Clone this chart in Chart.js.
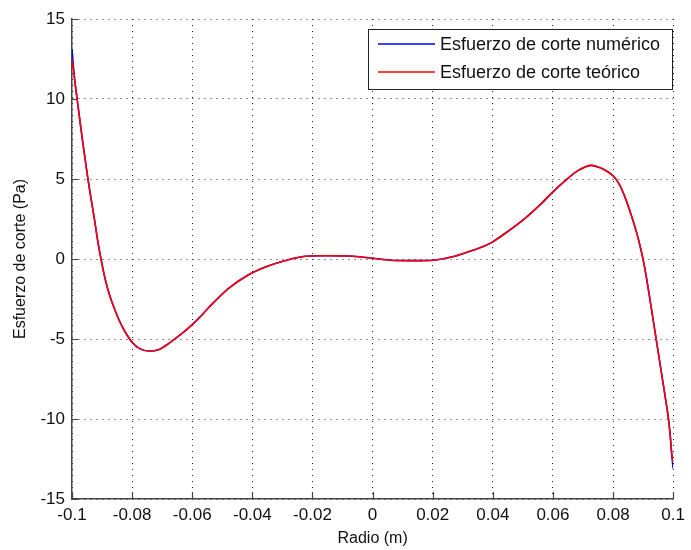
<!DOCTYPE html>
<html>
<head>
<meta charset="utf-8">
<script src="https://cdn.jsdelivr.net/npm/chart.js@4"></script>
<style>
  html, body { margin: 0; padding: 0; background: #fff; }
  #wrap { width: 691px; height: 550px; }
</style>
</head>
<body>
<div id="wrap"><canvas id="myChart"></canvas></div>
<script>
// valores
const radio = [-0.1, -0.0991, -0.0983, -0.0974, -0.0965, -0.0956, -0.0947, -0.0936, -0.0925, -0.0915,
  -0.0904, -0.0895, -0.0885, -0.0875, -0.0865, -0.0845, -0.0825, -0.08, -0.0775, -0.0744,
  -0.071, -0.068, -0.0634, -0.06, -0.057, -0.0546, -0.048, -0.0414, -0.035, -0.0283,
  -0.0223, -0.015, -0.0065, 0, 0.006, 0.015, 0.021, 0.0276, 0.0342, 0.037,
  0.0397, 0.0452, 0.0507, 0.0562, 0.06, 0.0644, 0.0683, 0.0726, 0.0757, 0.0778,
  0.08, 0.082, 0.084, 0.0862, 0.0879, 0.089, 0.0899, 0.091, 0.092, 0.093,
  0.094, 0.095, 0.096, 0.097, 0.098, 0.0985, 0.099, 0.0995, 0.1];
const corteTeorico = [12.5, 11.2, 10, 8.7, 7.4, 6.2, 5, 3.7, 2.45, 1.2,
  0.05, -0.8, -1.6, -2.25, -2.8, -3.75, -4.5, -5.2, -5.6, -5.75,
  -5.65, -5.3, -4.65, -4.1, -3.55, -3.05, -1.85, -1.0, -0.45, -0.06,
  0.17, 0.2, 0.17, 0.05, -0.08, -0.1, -0.06, 0.19, 0.6, 0.8,
  1.04, 1.75, 2.54, 3.48, 4.2, 4.94, 5.52, 5.85, 5.7, 5.5,
  5.2, 4.7, 3.85, 2.65, 1.6, 0.8, 0.05, -1.05, -2.2, -3.4,
  -4.6, -5.8, -7.0, -8.2, -9.4, -10.1, -11.0, -12.1, -12.7];
const corteNumerico = [13.1, 11.2, 10, 8.7, 7.4, 6.2, 5, 3.7, 2.45, 1.2,
  0.05, -0.8, -1.6, -2.25, -2.8, -3.75, -4.5, -5.2, -5.6, -5.75,
  -5.65, -5.3, -4.65, -4.1, -3.55, -3.05, -1.85, -1.0, -0.45, -0.06,
  0.17, 0.2, 0.17, 0.05, -0.08, -0.1, -0.06, 0.19, 0.6, 0.8,
  1.04, 1.75, 2.54, 3.48, 4.2, 4.94, 5.52, 5.85, 5.7, 5.5,
  5.2, 4.7, 3.85, 2.65, 1.6, 0.8, 0.05, -1.05, -2.2, -3.4,
  -4.6, -5.8, -7.0, -8.2, -9.4, -10.1, -11.0, -12.2, -13.1];
const xTicks = [-0.1, -0.08, -0.06, -0.04, -0.02, 0, 0.02, 0.04, 0.06, 0.08, 0.1];
const xTickLabels = ['-0.1', '-0.08', '-0.06', '-0.04', '-0.02', '0', '0.02', '0.04', '0.06', '0.08', '0.1'];
const yTicks = [-15, -10, -5, 0, 5, 10, 15];
const yTickLabels = ['-15', '-10', '-5', '0', '5', '10', '15'];

const FONT = 'Liberation Sans, Arial, sans-serif';

// marcas hacia dentro + leyenda con recuadro (estilo matlab)
const matlabLook = {
  id: 'matlabLook',
  afterDraw(chart) {
    const ctx = chart.ctx;
    const a = chart.chartArea;
    const xs = chart.scales.x, ys = chart.scales.y;
    ctx.save();
    ctx.strokeStyle = '#444';
    ctx.lineWidth = 1.2;
    ctx.beginPath();
    xTicks.forEach(v => {
      const p = Math.round(xs.getPixelForValue(v)) + 0.5;
      ctx.moveTo(p, a.bottom); ctx.lineTo(p, a.bottom - 7);
    });
    yTicks.forEach(v => {
      const p = Math.round(ys.getPixelForValue(v)) + 0.5;
      ctx.moveTo(a.left, p); ctx.lineTo(a.left + 6, p);
    });
    ctx.stroke();

    // leyenda
    const bx = 368.5, by = 29.5, bw = 304, bh = 60;
    ctx.fillStyle = '#fff';
    ctx.fillRect(bx, by, bw, bh);
    ctx.strokeStyle = '#222';
    ctx.lineWidth = 1;
    ctx.strokeRect(bx, by, bw, bh);
    ctx.font = '18px ' + FONT;
    ctx.textBaseline = 'middle';
    ctx.textAlign = 'left';
    chart.data.datasets.forEach((ds, i) => {
      const yy = 44 + i * 28;
      ctx.strokeStyle = ds.borderColor;
      ctx.lineWidth = 1.5;
      ctx.beginPath();
      ctx.moveTo(378, yy); ctx.lineTo(435, yy);
      ctx.stroke();
      ctx.fillStyle = '#111';
      ctx.fillText(ds.label, 440, yy + 1);
    });
    ctx.restore();
  }
};

const ctx = document.getElementById('myChart');
const data = {
  datasets: [{
    label: 'Esfuerzo de corte numérico',
    data: radio.map((r, i) => ({ x: r, y: corteNumerico[i] })),
    borderColor: '#0000ff',
    borderWidth: 1.6,
    pointRadius: 0,
    tension: 0.3,
    order: 2
  }, {
    label: 'Esfuerzo de corte teórico',
    data: radio.map((r, i) => ({ x: r, y: corteTeorico[i] })),
    borderColor: '#ff0000',
    borderWidth: 1.6,
    pointRadius: 0,
    tension: 0.3,
    order: 1
  }]
};

const config = {
  type: 'line',
  data: data,
  plugins: [matlabLook],
  options: {
    responsive: true,
    maintainAspectRatio: false,
    animation: false,
    layout: { padding: { top: 19, right: 11, left: 0, bottom: 0 } },
    plugins: { legend: { display: false }, tooltip: { enabled: false } },
    scales: {
      x: {
        type: 'linear',
        min: -0.1, max: 0.1,
        afterBuildTicks: s => { s.ticks = xTicks.map(v => ({ value: v })); },
        afterFit: s => { s.height = 51; },
        ticks: {
          callback: (v, i) => xTickLabels[i],
          color: '#111',
          font: { family: FONT, size: 17 },
          padding: 6,
          maxRotation: 0,
          autoSkip: false
        },
        grid: { color: '#222', lineWidth: 1, drawTicks: false },
        border: { display: true, color: '#444', width: 1.5, dash: [1, 5] },
        title: {
          display: true, text: 'Radio (m)', color: '#111',
          font: { family: FONT, size: 16 }, padding: { top: 0, bottom: 2 }
        }
      },
      y: {
        min: -15, max: 15,
        afterBuildTicks: s => { s.ticks = yTicks.map(v => ({ value: v })); },
        afterFit: s => { s.width = 72; },
        ticks: {
          callback: (v, i) => yTickLabels[i],
          color: '#111',
          font: { family: FONT, size: 17 },
          padding: 7,
          autoSkip: false
        },
        grid: { color: '#222', lineWidth: 1, drawTicks: false },
        border: { display: true, color: '#444', width: 1.5, dash: [1, 5] },
        title: {
          display: true, text: 'Esfuerzo de corte (Pa)', color: '#111',
          font: { family: FONT, size: 16 }, padding: { top: 11, bottom: 0 }
        }
      }
    }
  }
};

window.myChart = new Chart(ctx, config);
</script>
</body>
</html>
